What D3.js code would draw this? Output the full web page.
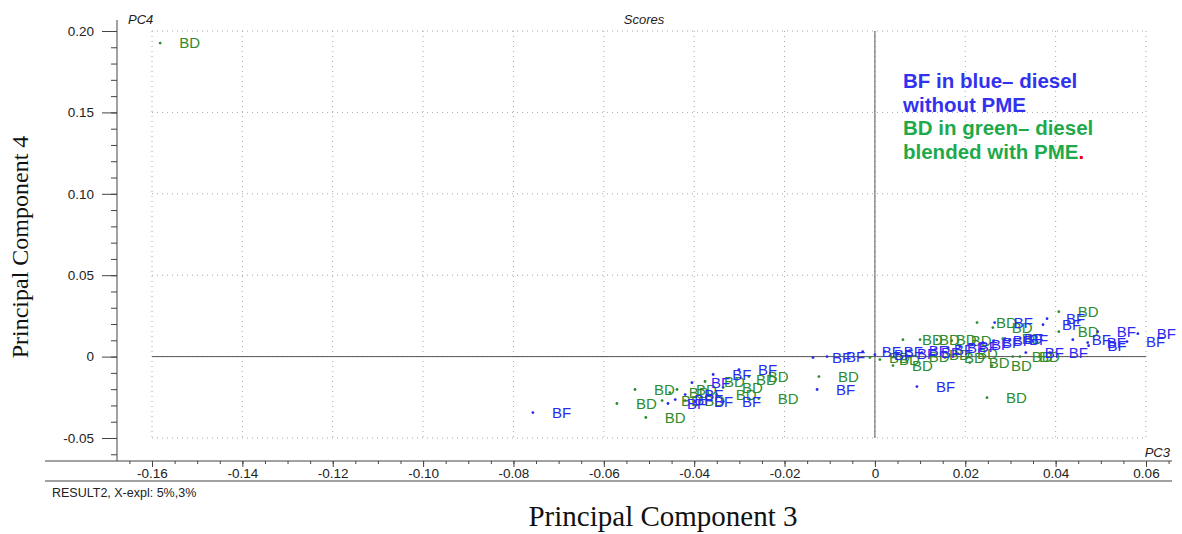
<!DOCTYPE html>
<html>
<head>
<meta charset="utf-8">
<script src="https://cdn.jsdelivr.net/npm/d3@7"></script>
<style>
  body { margin: 0; background: #fff; }
</style>
</head>
<body>
<div id="chart"></div>
<script>
// scores (PC3, PC4)
var bfPC3 = [-0.0757, -0.0442, -0.0458, -0.0405, -0.0398, -0.0358, -0.0336, -0.0301, -0.0420,
             -0.0128, -0.0137, -0.0106, 0.0093, 0.0334, 0.0387, 0.0381, 0.0372, 0.0438,
             0.0471, 0.0473, 0.0493, 0.0558, 0.0582, 0.0265, 0.0288,
             -0.0027, 0.0000, 0.0022, 0.0051, 0.0077, 0.0104, 0.0133, 0.0162, 0.0188,
             0.0215, 0.0239, 0.0263, 0.0299];
var bfPC4 = [-0.0344, -0.0264, -0.0288, -0.0160, -0.0276, -0.0110, -0.0276, -0.0080, -0.0233,
             -0.0202, -0.0006, 0.0000, -0.0184, 0.0025, 0.0025, 0.0233, 0.0196, 0.0104,
             0.0086, 0.0067, 0.0153, 0.0092, 0.0141, 0.0209, 0.0110,
             0.0031, 0.0012, 0.0031, 0.0018, 0.0037, 0.0025, 0.0043, 0.0055, 0.0061,
             0.0074, 0.0086, 0.0098, 0.0104];

var bdPC3 = [-0.1582, -0.0531, -0.0571, -0.0507, -0.0471, -0.0454, -0.0438, -0.0376, -0.0350,
             -0.0336, -0.0305, -0.0279, -0.0257, -0.0124, -0.0420,
             0.0062, 0.0040, 0.0226, 0.0261, 0.0407, 0.0407, 0.0283, 0.0305, 0.0210,
             0.0259, 0.0248, 0.0100, 0.0137, 0.0170, 0.0011, 0.0077, 0.0122, 0.0155,
             0.0184, 0.0321, -0.0011];
var bdPC4 = [0.1926, -0.0202, -0.0288, -0.0374, -0.0270, -0.0221, -0.0202, -0.0153, -0.0233,
             -0.0190, -0.0141, -0.0123, -0.0258, -0.0123, -0.0270,
             0.0104, -0.0055, 0.0209, 0.0178, 0.0276, 0.0153, 0.0110, 0.0000, -0.0037,
             -0.0055, -0.0252, 0.0104, 0.0104, 0.0098, -0.0018, 0.0000, 0.0012, -0.0006,
             0.0018, 0.0000, -0.0006];

var xTicks = [-0.16, -0.14, -0.12, -0.10, -0.08, -0.06, -0.04, -0.02, 0, 0.02, 0.04, 0.06];
var xTickLabels = ["-0.16", "-0.14", "-0.12", "-0.10", "-0.08", "-0.06", "-0.04", "-0.02", "0", "0.02", "0.04", "0.06"];
var yTicks = [-0.05, 0, 0.05, 0.10, 0.15, 0.20];
var yTickLabels = ["-0.05", "0", "0.05", "0.10", "0.15", "0.20"];

var legendLines = [
  { text: "BF in blue\u2013 diesel", color: "#3232ee" },
  { text: "without PME", color: "#3232ee" },
  { text: "BD in green\u2013 diesel", color: "#1eaa4a" },
  { text: "blended with PME", color: "#1eaa4a", dot: true }
];

var width = 1182, height = 534;
var bfColor = "#2a2af0", bdColor = "#2e8c2e";
var sans = "'Liberation Sans', Arial, sans-serif";
var serif = "'Liberation Serif', 'Times New Roman', serif";

var x = d3.scaleLinear().domain([-0.16, 0.06]).range([152, 1146]);
var y = d3.scaleLinear().domain([-0.05, 0.20]).range([438, 31]);

var axisY = 461, axisX = 117;

var svg = d3.select("#chart").append("svg")
    .attr("width", width)
    .attr("height", height)
    .style("font-family", sans);

// dotted grid
var grid = svg.append("g").attr("class", "grid")
    .attr("stroke", "#a8a8a8").attr("stroke-dasharray", "1,4");
grid.selectAll("line.gx").data(xTicks).enter().append("line")
    .attr("x1", function(d) { return x(d); }).attr("x2", function(d) { return x(d); })
    .attr("y1", y(0.20)).attr("y2", y(-0.05));
grid.selectAll("line.gy").data(yTicks).enter().append("line")
    .attr("y1", function(d) { return y(d); }).attr("y2", function(d) { return y(d); })
    .attr("x1", x(-0.16)).attr("x2", x(0.06));

// origin lines
svg.append("line").attr("x1", x(-0.16)).attr("x2", x(0.06))
    .attr("y1", y(0)).attr("y2", y(0)).attr("stroke", "#555");
svg.append("line").attr("x1", x(0)).attr("x2", x(0))
    .attr("y1", y(0.20)).attr("y2", y(-0.05)).attr("stroke", "#555");

// x axis band
var minorX = d3.range(-33, 14).map(function(i) { return i * 0.005; });
var gxMinor = svg.append("g").attr("transform", "translate(0," + axisY + ")")
    .call(d3.axisBottom(x).tickValues(minorX).tickSize(3).tickFormat(""));
var gx = svg.append("g").attr("transform", "translate(0," + axisY + ")")
    .call(d3.axisBottom(x).tickValues(xTicks).tickSize(6)
      .tickFormat(function(d, i) { return xTickLabels[i]; }));
[gxMinor, gx].forEach(function(g) {
  g.select(".domain").remove();
  g.selectAll("line").attr("stroke", "#444");
});
gx.selectAll("text").attr("font-size", 13.5).attr("fill", "#222").attr("y", 7)
    .style("font-family", sans);
svg.append("line").attr("x1", 45).attr("x2", 1172).attr("y1", axisY).attr("y2", axisY)
    .attr("stroke", "#444");
svg.append("line").attr("x1", 45).attr("x2", 1172).attr("y1", 481).attr("y2", 481)
    .attr("stroke", "#444");

// y axis
var minorY = d3.range(-6, 21).map(function(i) { return i * 0.01; });
var gyMinor = svg.append("g").attr("transform", "translate(" + axisX + ",0)")
    .call(d3.axisLeft(y).tickValues(minorY).tickSize(6).tickFormat(""));
var gy = svg.append("g").attr("transform", "translate(" + axisX + ",0)")
    .call(d3.axisLeft(y).tickValues(yTicks).tickSize(15)
      .tickFormat(function(d, i) { return yTickLabels[i]; }));
[gyMinor, gy].forEach(function(g) {
  g.select(".domain").remove();
  g.selectAll("line").attr("stroke", "#444");
});
gy.selectAll("text").attr("font-size", 13.5).attr("fill", "#222").attr("x", -23)
    .style("font-family", sans);
svg.append("line").attr("x1", axisX).attr("x2", axisX).attr("y1", 20).attr("y2", axisY)
    .attr("stroke", "#444");

// corner labels
svg.append("text").attr("x", 128).attr("y", 24).attr("font-size", 13)
    .attr("font-style", "italic").attr("fill", "#222").text("PC4");
svg.append("text").attr("x", 644).attr("y", 24).attr("font-size", 13)
    .attr("font-style", "italic").attr("fill", "#222").attr("text-anchor", "middle").text("Scores");
svg.append("text").attr("x", 1170).attr("y", 457).attr("font-size", 13)
    .attr("font-style", "italic").attr("fill", "#222").attr("text-anchor", "end").text("PC3");
svg.append("text").attr("x", 52).attr("y", 497).attr("font-size", 12.5)
    .attr("fill", "#222").text("RESULT2, X-expl: 5%,3%");

// axis titles
svg.append("text").attr("x", 663).attr("y", 526).attr("text-anchor", "middle")
    .style("font-family", serif)
    .attr("font-size", 29).attr("fill", "#111").text("Principal Component 3");
svg.append("text").attr("transform", "translate(28,247) rotate(-90)").attr("text-anchor", "middle")
    .style("font-family", serif)
    .attr("font-size", 24).attr("fill", "#111").text("Principal Component 4");

// score points
function drawGroup(pc3, pc4, label, color) {
  var data = pc3.map(function(v, i) { return { x: v, y: pc4[i] }; });
  var g = svg.append("g");
  g.selectAll("circle").data(data).enter().append("circle")
      .attr("cx", function(d) { return x(d.x); })
      .attr("cy", function(d) { return y(d.y); })
      .attr("r", 1.4).attr("fill", color);
  g.selectAll("text").data(data).enter().append("text")
      .attr("x", function(d) { return x(d.x) + 19; })
      .attr("y", function(d) { return y(d.y); })
      .attr("dy", "0.36em").attr("font-size", 15).attr("fill", color)
      .text(label);
}
drawGroup(bdPC3, bdPC4, "BD", bdColor);
drawGroup(bfPC3, bfPC4, "BF", bfColor);

// legend note
var leg = svg.append("g");
leg.selectAll("text").data(legendLines).enter().append("text")
    .attr("x", 903).attr("y", function(d, i) { return 88 + i * 23.5; })
    .attr("font-size", 20.5).attr("font-weight", "bold").attr("fill", function(d) { return d.color; })
    .each(function(d) {
      var t = d3.select(this);
      t.append("tspan").text(d.text);
      if (d.dot) t.append("tspan").attr("fill", "#e00").text(".");
    });
</script>
</body>
</html>
